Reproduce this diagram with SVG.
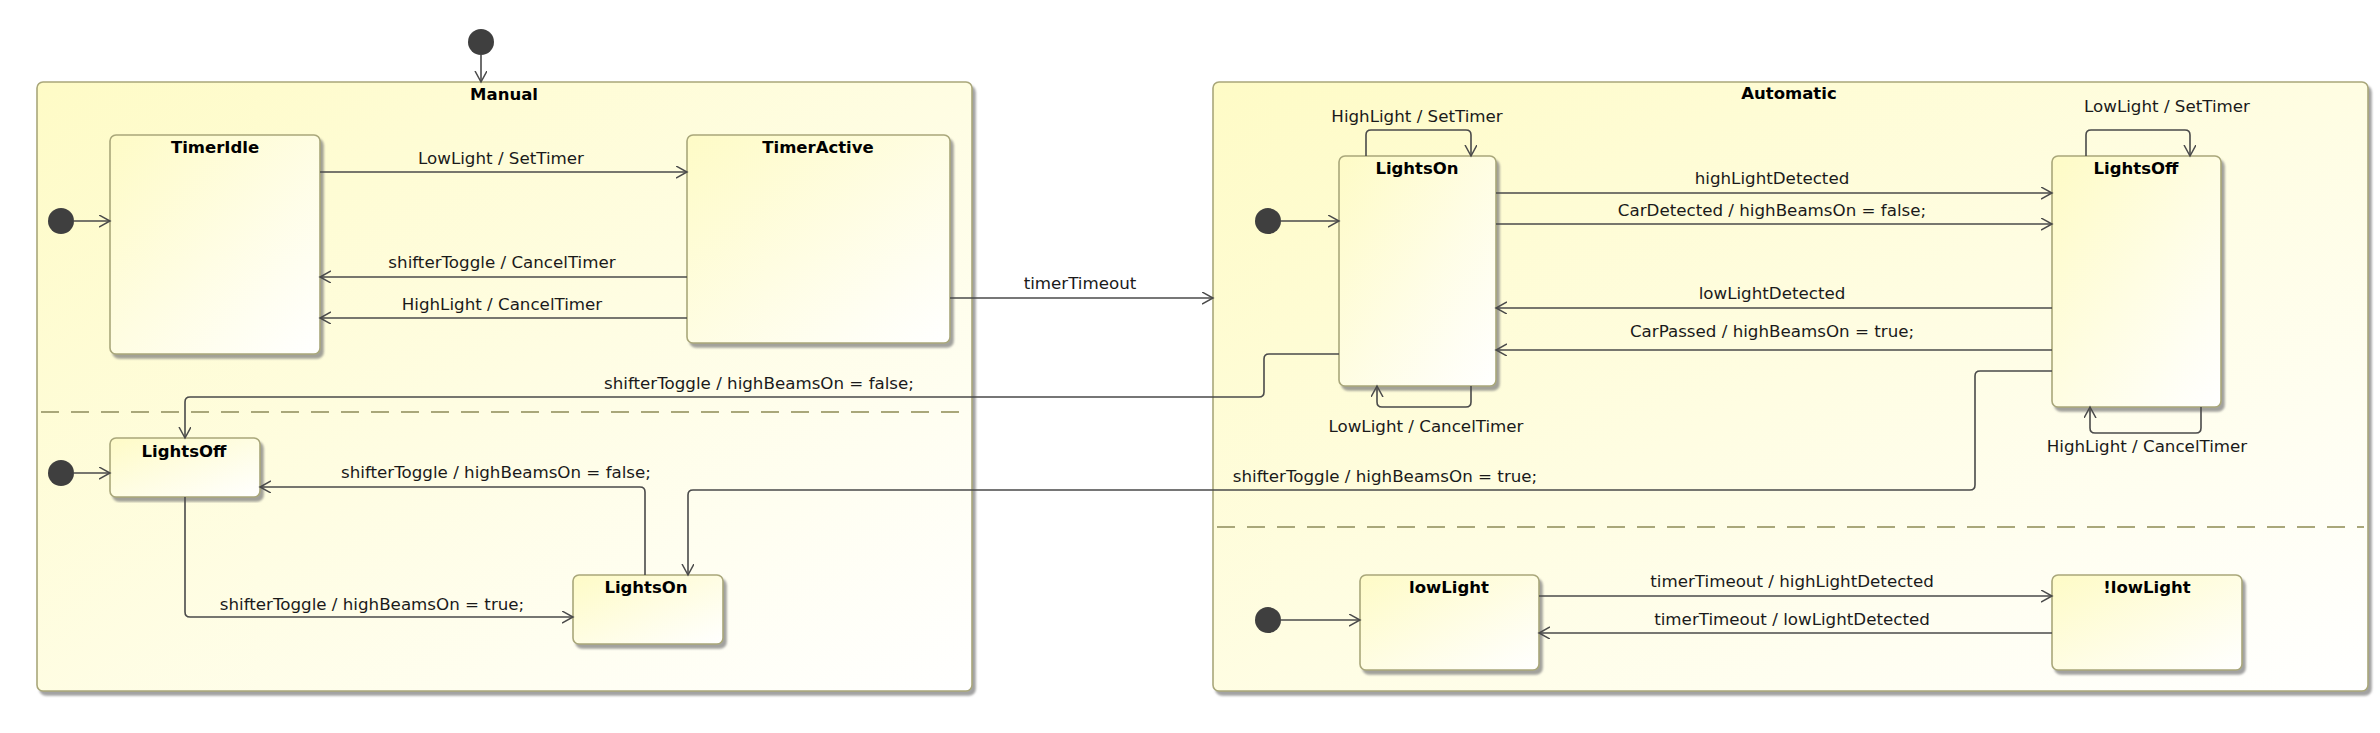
<svg xmlns="http://www.w3.org/2000/svg" width="2380" height="733" viewBox="0 0 2380 733">
<defs>
<linearGradient id="fillG" x1="0" y1="0" x2="1" y2="1">
<stop offset="0" stop-color="#FEFBC6"/>
<stop offset="1" stop-color="#FFFFFF"/>
</linearGradient>
<filter id="sh" x="-5%" y="-5%" width="115%" height="115%">
<feDropShadow dx="3" dy="4" stdDeviation="1.2" flood-color="#7a7a7a" flood-opacity="0.7"/>
</filter>
<marker id="arr" markerUnits="userSpaceOnUse" markerWidth="14" markerHeight="14" refX="11" refY="6" orient="auto">
<path d="M0,0 L11,6 L0,12" fill="none" stroke="#4a4a4a" stroke-width="1.5"/>
</marker>
<style>
.box{fill:url(#fillG);stroke:#A9A77A;stroke-width:1.6;filter:url(#sh)}
.init{fill:#3f3f3f}
.t{font-family:"DejaVu Sans",Verdana,sans-serif;font-size:16.7px;fill:#1a1a1a;text-anchor:middle}
.b{font-family:"DejaVu Sans",Verdana,sans-serif;font-size:16.5px;font-weight:bold;fill:#000;text-anchor:middle}
.e{fill:none;stroke:#4a4a4a;stroke-width:1.6;marker-end:url(#arr)}
.dash{fill:none;stroke:#A9A77A;stroke-width:2;stroke-dasharray:18 12}
</style>
</defs>
<rect width="2380" height="733" fill="#FFFFFF"/>

<g id="Manual">
<rect class="box" x="37" y="82" width="935" height="609" rx="6"/>
<text class="b" x="504" y="100">Manual</text>
<line class="dash" x1="41" y1="412" x2="960" y2="412"/>
</g>
<g id="Automatic">
<rect class="box" x="1213" y="82" width="1155" height="609" rx="6"/>
<text class="b" x="1789" y="99">Automatic</text>
<line class="dash" x1="1217" y1="527" x2="2364" y2="527"/>
</g>

<g id="init_top"><circle class="init" cx="481" cy="42" r="13"/></g>
<g id="init_manual_timer"><circle class="init" cx="61" cy="221" r="13"/></g>
<g id="init_manual_lights"><circle class="init" cx="61" cy="473" r="13"/></g>
<g id="init_auto_lights"><circle class="init" cx="1268" cy="221" r="13"/></g>
<g id="init_auto_light"><circle class="init" cx="1268" cy="620" r="13"/></g>

<g id="TimerIdle">
<rect class="box" x="110" y="135" width="210" height="219" rx="6"/>
<text class="b" x="215" y="153">TimerIdle</text>
</g>
<g id="TimerActive">
<rect class="box" x="687" y="135" width="263" height="208" rx="6"/>
<text class="b" x="818" y="153">TimerActive</text>
</g>
<g id="ManualLightsOff">
<rect class="box" x="110" y="438" width="150" height="59" rx="6"/>
<text class="b" x="184" y="457">LightsOff</text>
</g>
<g id="ManualLightsOn">
<rect class="box" x="573" y="575" width="150" height="69" rx="6"/>
<text class="b" x="646" y="593">LightsOn</text>
</g>
<g id="AutoLightsOn">
<rect class="box" x="1339" y="156" width="157" height="230" rx="6"/>
<text class="b" x="1417" y="174">LightsOn</text>
</g>
<g id="AutoLightsOff">
<rect class="box" x="2052" y="156" width="169" height="251" rx="6"/>
<text class="b" x="2136" y="174">LightsOff</text>
</g>
<g id="lowLight">
<rect class="box" x="1360" y="575" width="179" height="95" rx="6"/>
<text class="b" x="1449" y="593">lowLight</text>
</g>
<g id="notLowLight">
<rect class="box" x="2052" y="575" width="190" height="95" rx="6"/>
<text class="b" x="2147" y="593">!lowLight</text>
</g>

<g id="connectors">
<path class="e" d="M481,55 V82"/>
<path class="e" d="M74,221 H110"/>
<path class="e" d="M74,473 H110"/>
<path class="e" d="M1281,221 H1339"/>
<path class="e" d="M1281,620 H1360"/>

<path class="e" d="M320,172 H687"/>
<text class="t" x="501" y="164">LowLight / SetTimer</text>
<path class="e" d="M687,277 H320"/>
<text class="t" x="502" y="268">shifterToggle / CancelTimer</text>
<path class="e" d="M687,318 H320"/>
<text class="t" x="502" y="310">HighLight / CancelTimer</text>

<path class="e" d="M950,298 H1213"/>
<text class="t" x="1080" y="289">timerTimeout</text>

<path class="e" d="M1339,354 H1269 Q1264,354 1264,359 V392 Q1264,397 1259,397 H190 Q185,397 185,402 V438"/>
<text class="t" x="759" y="389">shifterToggle / highBeamsOn = false;</text>

<path class="e" d="M645,575 V492 Q645,487 640,487 H260"/>
<text class="t" x="496" y="478">shifterToggle / highBeamsOn = false;</text>

<path class="e" d="M2052,371 H1980 Q1975,371 1975,376 V485 Q1975,490 1970,490 H693 Q688,490 688,495 V575"/>
<text class="t" x="1385" y="482">shifterToggle / highBeamsOn = true;</text>

<path class="e" d="M185,497 V612 Q185,617 190,617 H573"/>
<text class="t" x="372" y="610">shifterToggle / highBeamsOn = true;</text>

<path class="e" d="M1366,156 V135 Q1366,130 1371,130 H1466 Q1471,130 1471,135 V156"/>
<text class="t" x="1417" y="122">HighLight / SetTimer</text>
<path class="e" d="M2086,156 V135 Q2086,130 2091,130 H2185 Q2190,130 2190,135 V156"/>
<text class="t" x="2167" y="112">LowLight / SetTimer</text>

<path class="e" d="M1496,193 H2052"/>
<text class="t" x="1772" y="184">highLightDetected</text>
<path class="e" d="M1496,224 H2052"/>
<text class="t" x="1772" y="216">CarDetected / highBeamsOn = false;</text>
<path class="e" d="M2052,308 H1496"/>
<text class="t" x="1772" y="299">lowLightDetected</text>
<path class="e" d="M2052,350 H1496"/>
<text class="t" x="1772" y="337">CarPassed / highBeamsOn = true;</text>

<path class="e" d="M1471,386 V402 Q1471,407 1466,407 H1382 Q1377,407 1377,402 V386"/>
<text class="t" x="1426" y="432">LowLight / CancelTimer</text>
<path class="e" d="M2201,407 V428 Q2201,433 2196,433 H2095 Q2090,433 2090,428 V407"/>
<text class="t" x="2147" y="452">HighLight / CancelTimer</text>

<path class="e" d="M1539,596 H2052"/>
<text class="t" x="1792" y="587">timerTimeout / highLightDetected</text>
<path class="e" d="M2052,633 H1539"/>
<text class="t" x="1792" y="625">timerTimeout / lowLightDetected</text>
</g>
</svg>
